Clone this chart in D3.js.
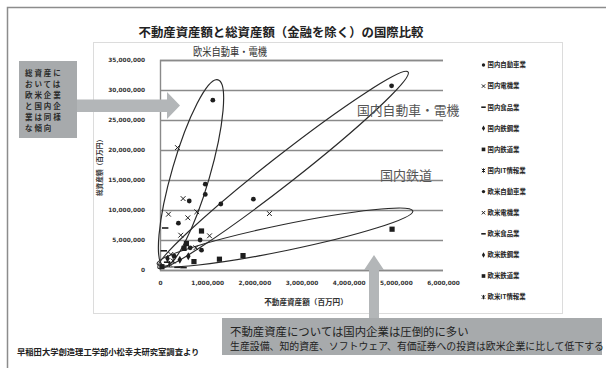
<!DOCTYPE html>
<html><head><meta charset="utf-8">
<script src="https://cdn.jsdelivr.net/npm/d3@7"></script>
<style>
html,body{margin:0;padding:0;background:#fff;}
svg{display:block;font-family:"Noto Sans CJK JP","Noto Sans",sans-serif;}
</style></head>
<body><svg id="c" width="606" height="368"></svg>
<script>
// ---- data (values in 百万円) ----
const title = "不動産資産額と総資産額（金融を除く）の国際比較";
const xTitle = "不動産資産額（百万円）";
const yTitle = "総資産額（百万円）";
const xTicks = [0,1000000,2000000,3000000,4000000,5000000,6000000];
const yTicks = [0,5000000,10000000,15000000,20000000,25000000,30000000,35000000];
const seriesNames = ["国内自動車業","国内電機業","国内食品業","国内鉄鋼業","国内鉄道業","国内IT情報業",
                     "欧米自動車業","欧米電機業","欧米食品業","欧米鉄鋼業","欧米鉄道業","欧米IT情報業"];
const jpAuto  = [[4910000,30700000],[1980000,11800000],[1290000,11000000],[850000,5000000],[880000,3300000],[640000,3700000],[300000,2300000]];
const jpElec  = [[2320000,9400000],[1050000,5700000],[760000,3700000],[440000,5800000],[230000,2600000]];
const jpFood  = [[370000,450000],[500000,400000],[150000,1300000]];
const jpSteel = [[600000,2300000],[420000,1700000]];
const jpRail  = [[4920000,6800000],[1760000,2400000],[1260000,1800000],[720000,1400000],[40000,550000]];
const jpIT    = [[280000,1500000]];
const euAuto  = [[1120000,28300000],[960000,14300000],[960000,12600000],[620000,11500000],[390000,7800000]];
const euElec  = [[370000,20400000],[490000,11900000],[780000,9700000],[590000,8700000],[180000,9300000]];
const euFood  = [[110000,7000000],[80000,3200000]];
const euSteel = [[160000,1900000]];
const euRail  = [[880000,6500000],[560000,4400000],[510000,3600000]];
const euIT    = [[200000,1000000]];
const seriesValues = [jpAuto,jpElec,jpFood,jpSteel,jpRail,jpIT,euAuto,euElec,euFood,euSteel,euRail,euIT];
// hand-drawn grouping ellipses: tail point, tip point (data units)
const groupTails = [[85000,670000],[-40000,330000],[-60000,1000000]];
const groupTips  = [[1230000,31700000],[5260000,33000000],[5360000,9830000]];
const groupLabels = ["欧米自動車・電機","国内自動車・電機","国内鉄道"];
const leftNote = ["総資産に","おいては","欧米企業","と国内企","業は同様","な傾向"];
const bottomNote = ["不動産資産については国内企業は圧倒的に多い","生産設備、知的資産、ソフトウェア、有価証券への投資は欧米企業に比して低下する"];
const source = "早稲田大学創造理工学部小松幸夫研究室調査より";

// ---- drawing ----
const svg = d3.select("#c");
const shapes = ["circle","x","dash","diamond","square","star"];
const ink = "#1e1e1e";

// outer frame
svg.append("path").attr("d","M7.5,370 V7.5 H610").attr("fill","none").attr("stroke","#8c8c8c").attr("stroke-width",1.5);
// chart area box
svg.append("rect").attr("x",93.5).attr("y",42.5).attr("width",469).attr("height",271)
  .attr("fill","#fff").attr("stroke","#dcdcdc").attr("stroke-width",1);

svg.append("text").attr("x",281).attr("y",36.5).attr("text-anchor","middle")
  .attr("font-size",12.4).attr("font-weight","bold").attr("fill","#222").text(title);

const x = d3.scaleLinear().domain([0,6000000]).range([160,443]);
const y = d3.scaleLinear().domain([0,35000000]).range([270,60]);
const fmt = d3.format(",");

const gy = svg.append("g").attr("transform","translate(160,0)")
  .call(d3.axisLeft(y).tickValues(yTicks).tickFormat(fmt).tickSize(-(x.range()[1]-x.range()[0])).tickPadding(15));
gy.select(".domain").attr("stroke","#8a8a8a").attr("stroke-width",1.4);
gy.selectAll(".tick line").attr("stroke","#8a8a8a").attr("stroke-width",1.4);
gy.selectAll(".tick text").attr("font-size",5.8).attr("font-weight","bold").attr("fill","#333")
  .attr("font-family","'DejaVu Sans',sans-serif");

const gx = svg.append("g").attr("transform","translate(0,270)")
  .call(d3.axisBottom(x).tickValues(xTicks).tickFormat(fmt).tickSize(0).tickPadding(11));
gx.select(".domain").remove();
gx.selectAll(".tick text").attr("font-size",5.8).attr("font-weight","bold").attr("fill","#333")
  .attr("font-family","'DejaVu Sans',sans-serif");

svg.append("text").attr("x",306).attr("y",305).attr("text-anchor","middle")
  .attr("font-size",7.6).attr("font-weight","bold").attr("fill","#333").text(xTitle);
svg.append("text").attr("transform","translate(102,166) rotate(-90)").attr("text-anchor","middle")
  .attr("font-size",6.7).attr("font-weight","bold").attr("fill","#333").text(yTitle);

// ellipses
groupTails.forEach((t,i)=>{
  const p0=[x(t[0]),y(t[1])], p1=[x(groupTips[i][0]),y(groupTips[i][1])];
  const cx=(p0[0]+p1[0])/2, cy=(p0[1]+p1[1])/2;
  const rx=Math.hypot(p1[0]-p0[0],p1[1]-p0[1])/2;
  const ang=Math.atan2(p1[1]-p0[1],p1[0]-p0[0])*180/Math.PI;
  const ry=[19,14,13][i];
  svg.append("ellipse").attr("cx",cx).attr("cy",cy).attr("rx",rx).attr("ry",ry)
    .attr("transform",`rotate(${ang} ${cx} ${cy})`)
    .attr("fill","none").attr("stroke","#2a2a2a").attr("stroke-width",1.2);
});

function marker(g, shape, px, py, s){
  s = s||1;
  if(shape==="circle") g.append("circle").attr("cx",px).attr("cy",py).attr("r",2.4*s).attr("fill",ink);
  else if(shape==="x"||shape==="star"){
    const r=2.4*s;
    g.append("path").attr("d",`M${px-r},${py-r}L${px+r},${py+r}M${px-r},${py+r}L${px+r},${py-r}`+(shape==="star"?`M${px},${py-r-0.5}V${py+r+0.5}`:""))
      .attr("stroke",ink).attr("stroke-width",1);
  }
  else if(shape==="dash") g.append("path").attr("d",`M${px-3.2*s},${py}H${px+3.2*s}`).attr("stroke",ink).attr("stroke-width",1.6);
  else if(shape==="diamond") g.append("path").attr("transform",`translate(${px},${py})`)
      .attr("d",d3.symbol(d3.symbolDiamond,18*s*s)()).attr("fill",ink);
  else if(shape==="square") g.append("rect").attr("x",px-2.6*s).attr("y",py-2.6*s).attr("width",5.2*s).attr("height",5.2*s).attr("fill",ink);
}
const gp = svg.append("g");
seriesValues.forEach((vals,i)=>{
  vals.forEach(v=>marker(gp, shapes[i%6], x(v[0]), y(v[1])));
});

// group labels
svg.append("text").attr("x",193).attr("y",56).attr("font-size",11).attr("textLength",74)
  .attr("lengthAdjust","spacingAndGlyphs").attr("fill","#333").text(groupLabels[0]);
svg.append("text").attr("x",357).attr("y",114.5).attr("font-size",12.8).attr("fill","#555").text(groupLabels[1]);
svg.append("text").attr("x",380).attr("y",179.5).attr("font-size",13).attr("fill","#555").text(groupLabels[2]);

// legend
const lg = svg.append("g");
seriesNames.forEach((n,i)=>{
  const ly = 65 + i*21.1;
  marker(lg, shapes[i%6], 483.5, ly, 0.7);
  lg.append("text").attr("x",487.5).attr("y",ly+2.3).attr("font-size",6.4).attr("font-weight","bold")
    .attr("fill","#222").text(n);
});

// left note box + arrow
const gray = "#a7aaac";
svg.append("path").attr("d","M77,99.5 H167 V92 L180,105.5 L167,119 V112 H77 Z").attr("fill","#b3b6b8");
svg.append("rect").attr("x",19).attr("y",61).attr("width",58).attr("height",77).attr("fill",gray);
leftNote.forEach((t,i)=>{
  svg.append("text").attr("x",25).attr("y",76+i*10.9).attr("font-size",7.5).attr("letter-spacing",1.9)
    .attr("font-weight","bold").attr("fill","#2a2a2a").text(t);
});

// bottom note box + arrow
svg.append("path").attr("d","M369,320 V270 H364 L374,255 L384,270 H379 V320 Z").attr("fill","#b3b6b8");
svg.append("rect").attr("x",222).attr("y",318).attr("width",380).attr("height",37).attr("fill",gray);
svg.append("text").attr("x",230).attr("y",336).attr("font-size",11.4).attr("fill","#222").text(bottomNote[0]);
svg.append("text").attr("x",230).attr("y",349.5).attr("font-size",9.9).attr("fill","#222").text(bottomNote[1]);

svg.append("text").attr("x",17).attr("y",355).attr("font-size",8.3).attr("font-weight","bold").attr("fill","#222").text(source);
</script></body></html>
